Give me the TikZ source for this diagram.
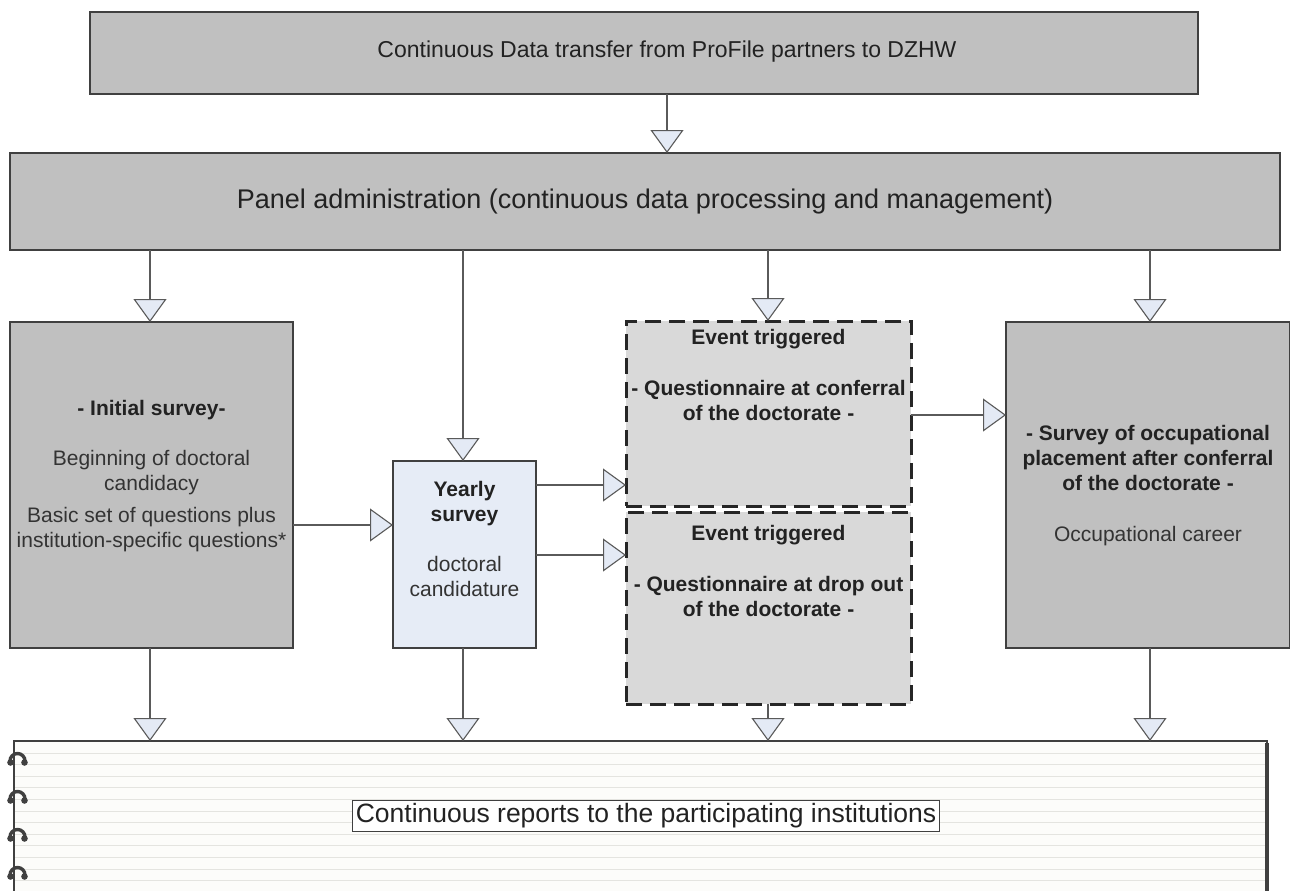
\documentclass[tikz,border=0pt]{standalone}
\usepackage{fontspec}
\setmainfont{Liberation Sans}
\usetikzlibrary{arrows.meta}
\definecolor{boxgray}{HTML}{C0C0C0}
\definecolor{evgray}{HTML}{D9D9D9}
\definecolor{yblue}{HTML}{E6ECF6}
\definecolor{tipblue}{HTML}{E4EAF5}
\definecolor{linegray}{HTML}{5A5A5A}
\definecolor{edge}{HTML}{404040}
\definecolor{txt}{HTML}{222222}
\definecolor{txtb}{HTML}{333333}
\definecolor{paper}{HTML}{FCFCFA}
\definecolor{rulecol}{HTML}{E4E4E0}
\newcommand{\bl}[1]{\textcolor{txt}{\textbf{#1}}}
\begin{document}
\begin{tikzpicture}[x=1pt,y=-1pt,
  flow/.style={draw=linegray, line width=1.4pt,
    -{Triangle[width=33pt,length=23pt,fill=tipblue,line width=1.1pt]}},
  graybox/.style={draw=edge, line width=1.3pt, fill=boxgray, inner sep=0pt, outer sep=0pt},
  evbox/.style={draw=black!85, line width=3pt, dash pattern=on 16pt off 8pt, fill=evgray, inner sep=0pt, outer sep=0pt},
  ybox/.style={draw=edge, line width=1.3pt, fill=yblue, inner sep=0pt, outer sep=0pt},
  body/.style={text=txtb, align=center, inner sep=0pt, anchor=north, font=\fontsize{21}{25}\selectfont},
  ring/.style={draw=edge, line width=3.4pt, line cap=round}
]
\useasboundingbox (0,0) rectangle (1290,891);

% columns and rows
\coordinate (xa) at (150,0);
\coordinate (xb) at (463,0);
\coordinate (xc) at (768,0);
\coordinate (xd) at (1150,0);
\coordinate (xt) at (667,0);
\coordinate (ra) at (0,525);
\coordinate (rb) at (0,485);
\coordinate (rc) at (0,555);
\coordinate (rd) at (0,415);

% top boxes
\node[graybox, minimum width=1108pt, minimum height=82pt] (top) at (644,53) {};
\node[text=txt, inner sep=0pt, font=\fontsize{23}{27}\selectfont] (toptext) at (667,52)
  {Continuous Data transfer from ProFile partners to DZHW};
\node[graybox, minimum width=1270pt, minimum height=97pt, text=txt,
      font=\fontsize{27}{31}\selectfont] (panel) at (645,201.5)
  {Panel administration (continuous data processing and management)};

% middle boxes
\node[graybox, minimum width=283pt, minimum height=326pt] (init) at (151.5,485) {};
\node[ybox, minimum width=143pt, minimum height=187pt] (yearly) at (464.5,554.5) {};
\node[evbox, minimum width=285pt, minimum height=185pt] (ev1) at (768.5,413.5) {};
\node[evbox, minimum width=285pt, minimum height=192pt] (ev2) at (768.5,608) {};
\node[graybox, minimum width=284pt, minimum height=326pt] (occ) at (1148,485) {};

\node[body] (tinit) at (151.5,400.5)
  {\bl{- Initial survey-}\\[25pt]
   Beginning of doctoral\\ candidacy\\[7pt]
   Basic set of questions plus\\ institution-specific questions*};
\node[body] (tyear) at (464.5,481)
  {\bl{Yearly}\\ \bl{survey}\\[25pt]
   doctoral\\ candidature};
\node[body] (tev1) at (768.5,329)
  {\bl{Event triggered}\\[26pt] \bl{- Questionnaire at conferral}\\ \bl{of the doctorate -}};
\node[body] (tev2) at (768.5,525)
  {\bl{Event triggered}\\[26pt] \bl{- Questionnaire at drop out}\\ \bl{of the doctorate -}};
\node[body] (tocc) at (1148,425)
  {\bl{- Survey of occupational}\\ \bl{placement after conferral}\\ \bl{of the doctorate -}\\[26pt]
   Occupational career};

% notebook
\node[draw=edge, line width=1.3pt, fill=paper, minimum width=1253pt, minimum height=170pt,
      inner sep=0pt, outer sep=0pt] (nb) at (640.5,826) {};
\begin{scope}
\clip (15,742) rectangle (1266,891);
\foreach \k in {0,...,11} {
  \draw[rulecol, line width=1pt] (15,{753+11.6*\k}) -- (1266,{753+11.6*\k});
}
\end{scope}
\draw[edge, line width=4pt] (1266.5,743) -- (1266.5,891);
\foreach \yy in {759,797,835,873} {
  \draw[ring] (10,\yy+2) arc[start angle=180, end angle=360, radius=7.5];
  \fill[edge] (10.5,\yy+3.5) circle (3.3);
  \fill[edge] (24.5,\yy+3.5) circle (3.3);
}
\node[draw=edge, line width=1.2pt, fill=white, text=txt, inner sep=3pt,
      font=\fontsize{26.5}{30}\selectfont] (rep) at (646,816)
  {Continuous reports to the participating institutions};

% connectors
\draw[flow] (top.south -| xt) -- (panel.north -| xt);
\draw[flow] (panel.south -| xa) -- (init.north -| xa);
\draw[flow] (panel.south -| xb) -- (yearly.north -| xb);
\draw[flow] (panel.south -| xc) -- (ev1.north -| xc);
\draw[flow] (panel.south -| xd) -- (occ.north -| xd);

\draw[flow] (init.east |- ra) -- (yearly.west |- ra);
\draw[flow] (yearly.east |- rb) -- (ev1.west |- rb);
\draw[flow] (yearly.east |- rc) -- (ev2.west |- rc);
\draw[flow] (ev1.east |- rd) -- (occ.west |- rd);

\draw[flow] (init.south -| xa) -- (nb.north -| xa);
\draw[flow] (yearly.south -| xb) -- (nb.north -| xb);
\draw[flow] (ev2.south -| xc) -- (nb.north -| xc);
\draw[flow] (occ.south -| xd) -- (nb.north -| xd);
\end{tikzpicture}
\end{document}
